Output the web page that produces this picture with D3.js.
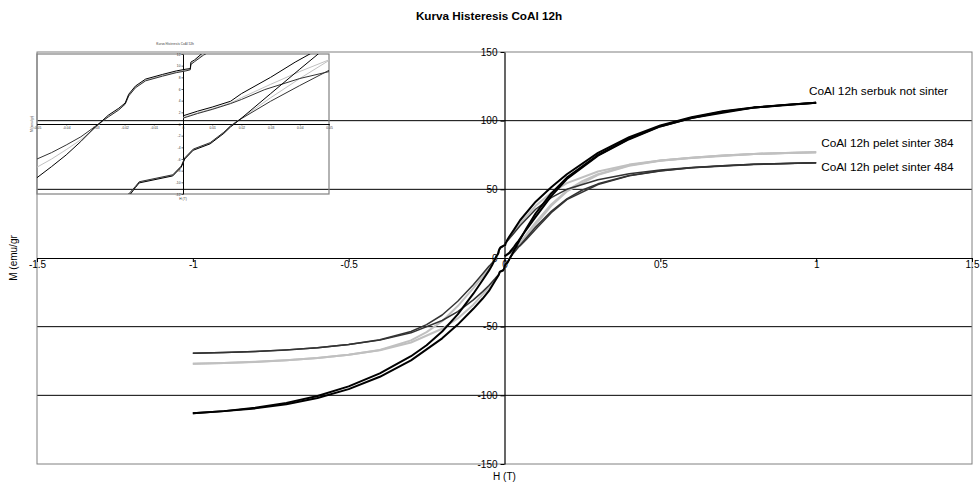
<!DOCTYPE html>
<html>
<head>
<meta charset="utf-8">
<script src="https://cdn.jsdelivr.net/npm/d3@7"></script>
<style>
  body { margin: 0; background: #fff; }
  svg { font-family: "Liberation Sans", Arial, sans-serif; }
</style>
</head>
<body>
<svg id="chart" width="980" height="483"></svg>
<script>
// ---------- data (H in T, M in emu/gr) ----------
const xTicks = [-1.5, -1, -0.5, 0, 0.5, 1, 1.5];
const yTicks = [-150, -100, -50, 0, 50, 100, 150];
const insetXTicks = [-0.05, -0.04, -0.03, -0.02, -0.01, 0, 0.01, 0.02, 0.03, 0.04, 0.05];
const insetYTicks = [-12, -10, -8, -6, -4, -2, 0, 2, 4, 6, 8, 10, 12];

const seriesNames = ['CoAl 12h serbuk not sinter', 'CoAl 12h pelet sinter 384', 'CoAl 12h pelet sinter 484'];

// serbuk not sinter
const serbukDown = [[1, 113], [0.9, 111.5], [0.8, 109.6], [0.7, 106.8], [0.6, 102.5], [0.5, 96.5], [0.4, 88], [0.3, 76.5], [0.2, 61], [0.15, 51.5], [0.1, 41], [0.05, 27.5], [0.03, 20.5], [0.015, 15.5], [0.007, 12.3], [0.004, 11], [0.0027, 10.6], [0.0025, 9.5], [0.001, 9.4], [-0.0023, 9.1], [-0.007, 8.5], [-0.0128, 7.7], [-0.0163, 6.5], [-0.0186, 5.1], [-0.0198, 3.6], [-0.022, 2.7], [-0.0256, 1.5], [-0.03, -0.5], [-0.035, -3], [-0.04, -5.3], [-0.045, -7.3], [-0.05, -9.2], [-0.07, -16], [-0.1, -26], [-0.15, -41], [-0.2, -53.5], [-0.25, -63.5], [-0.3, -71.5], [-0.4, -84], [-0.5, -93.5], [-0.6, -100.5], [-0.7, -105.5], [-0.8, -109], [-0.9, -111.5], [-1, -113]];
const serbukUp = [[-1, -113], [-0.9, -111.5], [-0.8, -109.5], [-0.7, -106.5], [-0.6, -102], [-0.5, -95.5], [-0.4, -86.5], [-0.3, -74.5], [-0.2, -58.5], [-0.15, -48.5], [-0.1, -37], [-0.07, -29.5], [-0.05, -24], [-0.03, -16.5], [-0.0186, -12.4], [-0.0163, -10.9], [-0.015, -10.1], [-0.0035, -8.9], [-0.0006, -7.4], [0.0006, -6], [0.0035, -4.5], [0.0093, -3.4], [0.014, -1.6], [0.0163, -0.5], [0.0186, 0.4], [0.03, 5.2], [0.04, 9.4], [0.047, 12.3], [0.07, 21.5], [0.1, 32.5], [0.15, 47], [0.2, 58.5], [0.3, 75], [0.4, 87], [0.5, 96], [0.6, 102], [0.7, 106.5], [0.8, 109.5], [0.9, 111.5], [1, 113]];
const serbukVirgin = [[0, 1.4], [0.005, 2.2], [0.01, 2.9], [0.0163, 3.9], [0.02, 5.2], [0.03, 8], [0.0384, 10.6], [0.0445, 12.3], [0.06, 17.5], [0.1, 30], [0.15, 45], [0.2, 57.5], [0.3, 74.5], [0.4, 86.5], [0.5, 95.8], [0.6, 102], [0.8, 109.5], [1, 113]];

// pelet sinter 384
const pelet384Down = [[1, 77], [0.9, 76.5], [0.8, 75.8], [0.7, 74.6], [0.6, 73], [0.5, 71], [0.4, 68], [0.3, 63], [0.2, 54.5], [0.15, 47.5], [0.1, 38], [0.05, 25], [0.03, 19], [0.015, 14.5], [0.007, 12], [0.004, 10.8], [0.0027, 10.3], [0.0025, 9.4], [0.001, 9.2], [-0.0023, 8.9], [-0.007, 8.3], [-0.0128, 7.5], [-0.0163, 6.3], [-0.0186, 4.9], [-0.0198, 3.4], [-0.022, 2.5], [-0.0256, 1.3], [-0.03, -0.6], [-0.035, -2.7], [-0.04, -4.4], [-0.045, -6], [-0.05, -7.4], [-0.07, -13.5], [-0.1, -22], [-0.15, -35], [-0.2, -46], [-0.25, -54], [-0.3, -60], [-0.4, -67], [-0.5, -70.5], [-0.6, -72.8], [-0.7, -74.4], [-0.8, -75.6], [-0.9, -76.4], [-1, -77]];
const pelet384Up = [[-1, -77], [-0.9, -76.5], [-0.8, -75.7], [-0.7, -74.5], [-0.6, -72.8], [-0.5, -70.5], [-0.4, -67.2], [-0.3, -61.5], [-0.2, -51.5], [-0.15, -44], [-0.1, -34], [-0.07, -26.5], [-0.05, -21.5], [-0.03, -15.5], [-0.0186, -12.2], [-0.0163, -10.8], [-0.015, -10], [-0.0035, -8.8], [-0.0006, -7.3], [0.0006, -5.9], [0.0035, -4.4], [0.0093, -3.3], [0.014, -1.5], [0.0163, -0.4], [0.0186, 0.5], [0.03, 4.5], [0.04, 7.8], [0.05, 10.9], [0.07, 17], [0.1, 26], [0.15, 39], [0.2, 49], [0.25, 56], [0.3, 61], [0.4, 67.5], [0.5, 71], [0.6, 73], [0.7, 74.6], [0.8, 75.8], [0.9, 76.5], [1, 77]];
const pelet384Virgin = [[0, 1.1], [0.005, 1.9], [0.01, 2.6], [0.0163, 3.6], [0.02, 4.5], [0.03, 6.8], [0.04, 9], [0.05, 11], [0.07, 16], [0.1, 24.5], [0.15, 38], [0.2, 48.5], [0.3, 60.5], [0.4, 67.2], [0.5, 70.8], [0.6, 72.9], [0.8, 75.7], [1, 77]];

// pelet sinter 484
const pelet484Down = [[1, 69.3], [0.9, 68.8], [0.8, 68.2], [0.7, 67.2], [0.6, 65.9], [0.5, 64], [0.4, 61.3], [0.3, 57], [0.2, 50], [0.15, 44], [0.1, 35.5], [0.05, 23.5], [0.03, 18], [0.015, 14], [0.007, 11.8], [0.004, 10.7], [0.0027, 10.2], [0.0025, 9.3], [0.001, 9.1], [-0.0023, 8.8], [-0.007, 8.2], [-0.0128, 7.4], [-0.0163, 6.2], [-0.0186, 4.8], [-0.0198, 3.4], [-0.022, 2.4], [-0.0256, 1.2], [-0.03, -0.4], [-0.035, -2.2], [-0.04, -3.6], [-0.045, -4.9], [-0.05, -6], [-0.07, -11.5], [-0.1, -19.5], [-0.15, -31.5], [-0.2, -41.5], [-0.25, -48.5], [-0.3, -53.5], [-0.4, -59.5], [-0.5, -63], [-0.6, -65.3], [-0.7, -66.9], [-0.8, -68], [-0.9, -68.8], [-1, -69.3]];
const pelet484Up = [[-1, -69.3], [-0.9, -68.8], [-0.8, -68], [-0.7, -66.9], [-0.6, -65.3], [-0.5, -63], [-0.4, -59.8], [-0.3, -54.5], [-0.2, -45.5], [-0.15, -39], [-0.1, -30.5], [-0.07, -24.5], [-0.05, -20], [-0.03, -15], [-0.0186, -12], [-0.0163, -10.7], [-0.015, -9.9], [-0.0035, -8.7], [-0.0006, -7.2], [0.0006, -5.8], [0.0035, -4.3], [0.0093, -3.2], [0.014, -1.4], [0.0163, -0.3], [0.0186, 0.5], [0.03, 3.9], [0.04, 6.6], [0.05, 9.2], [0.07, 14.5], [0.1, 22.5], [0.15, 34], [0.2, 43], [0.25, 49.5], [0.3, 54], [0.4, 60], [0.5, 63.5], [0.6, 65.8], [0.7, 67.2], [0.8, 68.2], [0.9, 68.8], [1, 69.3]];
const pelet484Virgin = [[0, 1], [0.005, 1.8], [0.01, 2.5], [0.0163, 3.5], [0.02, 4.2], [0.028, 5.9], [0.04, 7.8], [0.051, 9.1], [0.07, 13.5], [0.1, 21], [0.15, 33], [0.2, 42.5], [0.3, 53.5], [0.4, 59.8], [0.5, 63.4], [0.6, 65.7], [0.8, 68.1], [1, 69.3]];

const series = [
  {name: seriesNames[1], color: '#c0c0c0', width: 2, branches: [pelet384Down, pelet384Up, pelet384Virgin]},
  {name: seriesNames[2], color: '#333333', width: 1.5, branches: [pelet484Down, pelet484Up, pelet484Virgin]},
  {name: seriesNames[0], color: '#000000', width: 2, branches: [serbukDown, serbukUp, serbukVirgin]}
];

// ---------- main chart ----------
const svg = d3.select('#chart');
const x = d3.scaleLinear().domain([-1.5, 1.5]).range([37, 972]);
const y = d3.scaleLinear().domain([-150, 150]).range([464, 52]);
const fmt = d => String(d);

svg.append('text')
  .attr('x', 489).attr('y', 20)
  .attr('text-anchor', 'middle')
  .style('font-size', '11.7px').style('font-weight', 'bold')
  .text('Kurva Histeresis CoAl 12h');

// gridlines
svg.append('g').selectAll('line')
  .data(yTicks.filter(d => d !== 0 && Math.abs(d) !== 150))
  .join('line')
    .attr('x1', x(-1.5)).attr('x2', x(1.5))
    .attr('y1', d => y(d)).attr('y2', d => y(d))
    .attr('stroke', '#000').attr('stroke-width', 1);

// plot border
svg.append('rect')
  .attr('x', x(-1.5)).attr('y', y(150))
  .attr('width', x(1.5) - x(-1.5)).attr('height', y(-150) - y(150))
  .attr('fill', 'none').attr('stroke', '#808080').attr('stroke-width', 1);

// axes through zero
const yAxis = svg.append('g')
  .attr('transform', `translate(${x(0)},0)`)
  .call(d3.axisLeft(y).tickValues(yTicks).tickFormat(fmt).tickSize(4).tickSizeOuter(0));
const xAxis = svg.append('g')
  .attr('transform', `translate(0,${y(0)})`)
  .call(d3.axisBottom(x).tickValues(xTicks).tickFormat(fmt).tickSize(4).tickSizeOuter(0));
[xAxis, yAxis].forEach(a => {
  a.select('.domain').attr('stroke', '#000').attr('stroke-width', 1.2);
  a.selectAll('.tick line').attr('stroke', '#000');
  a.selectAll('text').style('font-size', '10px').attr('fill', '#000')
    .style('font-family', '"Liberation Sans", Arial, sans-serif');
});
xAxis.selectAll('text').attr('y', 3);

// axis titles
svg.append('text')
  .attr('x', x(0)).attr('y', 480)
  .attr('text-anchor', 'middle').style('font-size', '10px')
  .text('H (T)');
svg.append('text')
  .attr('transform', `translate(17,${y(0)}) rotate(-90)`)
  .attr('text-anchor', 'middle').style('font-size', '10px')
  .text('M (emu/gr');

// curves
const line = d3.line().x(d => x(d[0])).y(d => y(d[1]));
series.forEach(s => {
  svg.append('g').selectAll('path')
    .data(s.branches)
    .join('path')
      .attr('d', line)
      .attr('fill', 'none')
      .attr('stroke', s.color)
      .attr('stroke-width', s.width)
      .attr('stroke-linejoin', 'round');
});

// series labels at the curve ends
const labelPos = [
  {name: seriesNames[0], h: 0.977, m: 118.5},
  {name: seriesNames[1], h: 1.016, m: 81},
  {name: seriesNames[2], h: 1.016, m: 63.5}
];
svg.append('g').selectAll('text')
  .data(labelPos)
  .join('text')
    .attr('x', d => x(d.h)).attr('y', d => y(d.m))
    .style('font-size', '11.8px')
    .text(d => d.name);

// ---------- inset (zoom around origin) ----------
const ix = d3.scaleLinear().domain([-0.05, 0.05]).range([37, 329]);
const iy = d3.scaleLinear().domain([-12, 12]).range([194, 54]);
const inset = svg.append('g').attr('class', 'inset');

inset.append('clipPath').attr('id', 'insetClip')
  .append('rect')
    .attr('x', ix(-0.05)).attr('y', iy(12))
    .attr('width', ix(0.05) - ix(-0.05)).attr('height', iy(-12) - iy(12));

inset.append('rect')
  .attr('x', ix(-0.05)).attr('y', iy(12))
  .attr('width', ix(0.05) - ix(-0.05)).attr('height', iy(-12) - iy(12))
  .attr('fill', 'none').attr('stroke', '#808080').attr('stroke-width', 1.2);

const iyAxis = inset.append('g')
  .attr('transform', `translate(${ix(0)},0)`)
  .call(d3.axisLeft(iy).tickValues(insetYTicks).tickFormat(fmt).tickSize(1.5).tickPadding(1).tickSizeOuter(0));
const ixAxis = inset.append('g')
  .attr('transform', `translate(0,${iy(0)})`)
  .call(d3.axisBottom(ix).tickValues(insetXTicks).tickFormat(fmt).tickSize(1.5).tickPadding(1).tickSizeOuter(0));
[ixAxis, iyAxis].forEach(a => {
  a.select('.domain').attr('stroke', '#000').attr('stroke-width', 1);
  a.selectAll('.tick line').attr('stroke', '#000').attr('stroke-width', 0.6);
  a.selectAll('text').style('font-size', '3.3px').attr('fill', '#333')
    .style('font-family', '"Liberation Sans", Arial, sans-serif');
});

inset.append('text')
  .attr('x', 175).attr('y', 45)
  .attr('text-anchor', 'middle')
  .style('font-size', '3px').style('font-weight', 'bold').attr('fill', '#777')
  .text('Kurva Histeresis CoAl 12h');
inset.append('text')
  .attr('x', ix(0)).attr('y', 200)
  .attr('text-anchor', 'middle').style('font-size', '3.3px').attr('fill', '#333')
  .text('H (T)');
inset.append('text')
  .attr('transform', `translate(33,${iy(0)}) rotate(-90)`)
  .attr('text-anchor', 'middle').style('font-size', '3.3px').attr('fill', '#333')
  .text('M (emu/gr)');

const iline = d3.line().x(d => ix(d[0])).y(d => iy(d[1]));
const curves = inset.append('g').attr('clip-path', 'url(#insetClip)');
series.forEach(s => {
  curves.append('g').selectAll('path')
    .data(s.branches)
    .join('path')
      .attr('d', iline)
      .attr('fill', 'none')
      .attr('stroke', s.color)
      .attr('stroke-width', 1)
      .attr('stroke-linejoin', 'round');
});
</script>
</body>
</html>
